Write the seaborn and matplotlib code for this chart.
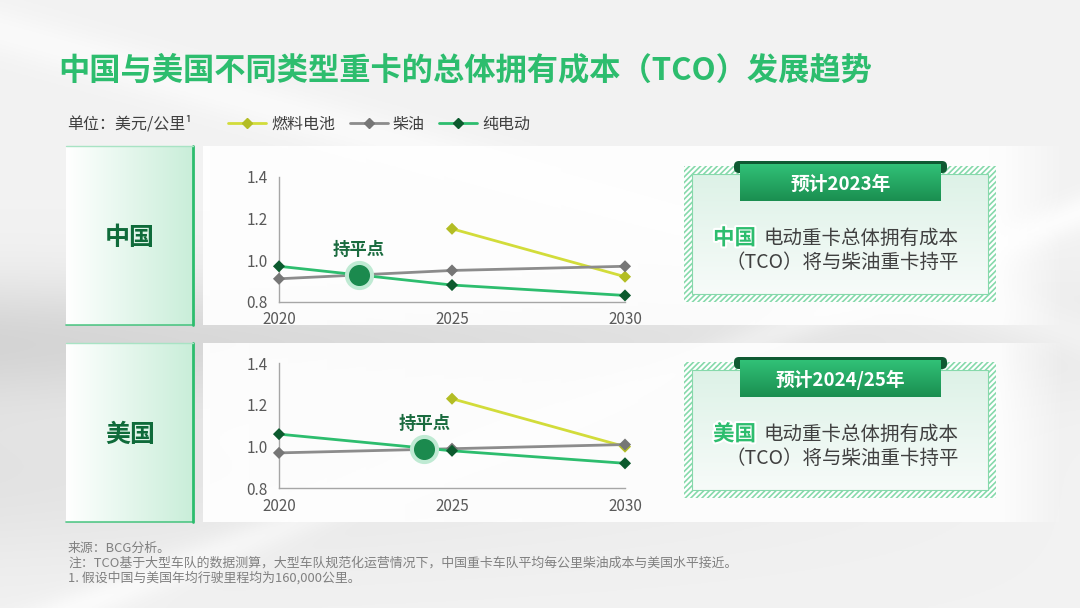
import numpy as np
import pandas as pd
import seaborn as sns
import matplotlib
matplotlib.use('Agg')
import matplotlib.pyplot as plt
from matplotlib.patches import Rectangle, FancyBboxPatch
from matplotlib.lines import Line2D
import matplotlib.patheffects as pe

sns.set_theme(style='white')
plt.rcParams['font.family'] = ['Noto Sans CJK SC', 'DejaVu Sans']
plt.rcParams['hatch.linewidth'] = 1.2

# ---- data ----
years = [2020, 2025, 2030]
series_names = ['燃料电池', '柴油', '纯电动']
china_fuel_cell = [np.nan, 1.15, 0.92]
china_diesel = [0.91, 0.95, 0.97]
china_electric = [0.97, 0.88, 0.83]
us_fuel_cell = [np.nan, 1.23, 1.00]
us_diesel = [0.97, 0.99, 1.01]
us_electric = [1.06, 0.98, 0.92]
china_breakeven = (2022.3, 0.93)
us_breakeven = (2024.2, 0.99)
regions = ['中国', '美国']
callout_titles = ['预计2023年', '预计2024/25年']
y_ticks = [0.8, 1.0, 1.2, 1.4]

title = '中国与美国不同类型重卡的总体拥有成本（TCO）发展趋势'
unit_label = '单位：美元/公里¹'
notes = ['来源：BCG分析。',
         '注：TCO基于大型车队的数据测算，大型车队规范化运营情况下，中国重卡车队平均每公里柴油成本与美国水平接近。',
         '1. 假设中国与美国年均行驶里程均为160,000公里。']

line_colors = {'燃料电池': '#d2dc3a', '柴油': '#8c8c8c', '纯电动': '#2dbd6e'}
marker_colors = {'燃料电池': '#b3bd24', '柴油': '#767676', '纯电动': '#0c5a2e'}
GREEN = '#2dbd6e'
DARK_GREEN = '#0f6b3a'

W, H = 1080, 608
fig = plt.figure(figsize=(10.8, 6.08), dpi=100)
bg = fig.add_axes([0, 0, 1, 1])
bg.axis('off')


def grad(ax, x0, y0, x1, y1, c0, c1, vertical=False, a0=1.0, a1=1.0, z=0):
    t = np.linspace(0, 1, 256)
    c0 = np.array(matplotlib.colors.to_rgb(c0))
    c1 = np.array(matplotlib.colors.to_rgb(c1))
    rgb = c0[None, :] * (1 - t[:, None]) + c1[None, :] * t[:, None]
    a = a0 * (1 - t) + a1 * t
    img = np.concatenate([rgb, a[:, None]], axis=1)
    img = img[:, None, :] if vertical else img[None, :, :]
    ax.imshow(img, extent=(x0, x1, y1, y0), origin='upper', aspect='auto',
              zorder=z, interpolation='bilinear')


# background with soft streaks
yy, xx = np.mgrid[0:1:300j, 0:1:540j]
base = 0.95 - 0.11 * np.exp(-((yy - 0.56) / 0.10) ** 2) * (1 - 0.7 * xx)
base -= 0.06 * np.exp(-((yy - 0.78) / 0.15) ** 2) * (1 - xx)
base += 0.04 * np.exp(-((0.7 * xx + yy - 1.05) / 0.03) ** 2)
base += 0.03 * np.exp(-((0.5 * xx - yy + 0.05) / 0.04) ** 2)
base = np.clip(base, 0, 1)
bg.imshow(np.dstack([base, base, base]), extent=(0, W, H, 0), aspect='auto', zorder=0)

# title and unit line
bg.text(58, 70, title, color=GREEN, fontsize=22.5, fontweight='bold', va='center', ha='left', zorder=5)
bg.text(67, 124, unit_label, color='#404040', fontsize=11.5, va='center', ha='left', zorder=5)

row_tops = [146, 343]
callout_tops = [166, 362]
region_data = [(china_fuel_cell, china_diesel, china_electric, china_breakeven),
               (us_fuel_cell, us_diesel, us_electric, us_breakeven)]

for i, (region, top) in enumerate(zip(regions, row_tops)):
    bottom = top + 179
    # left label box
    grad(bg, 66, top, 193, bottom, '#ffffff', '#c9eed9', z=1)
    bg.plot([193, 193], [top, bottom], color=GREEN, lw=2, zorder=2)
    bg.plot([66, 193], [bottom, bottom], color=GREEN, lw=1.2, alpha=0.8, zorder=2)
    bg.plot([66, 193], [top, top], color='#a8e3c4', lw=1, zorder=2)
    bg.text(130, top + 92, region, color=DARK_GREEN, fontsize=18, fontweight='bold',
            ha='center', va='center', zorder=3)
    # chart panel
    grad(bg, 203, top, 1000, bottom, '#ffffff', '#ffffff', a0=0.93, a1=0.85, z=1)
    grad(bg, 1000, top, 1065, bottom, '#ffffff', '#ffffff', a0=0.85, a1=0.0, z=1)

    # callout box
    ct = callout_tops[i]
    bg.add_patch(Rectangle((684, ct), 312, 136, facecolor='#ffffff', edgecolor='#86d9ab',
                           hatch='//////', lw=0, zorder=2))
    grad(bg, 692, ct + 8, 988, ct + 128, '#ddf2e7', '#f7fbf9', vertical=True, z=3)
    bg.add_patch(Rectangle((692, ct + 8), 296, 120, facecolor='none', edgecolor='#86d9ab',
                           lw=0.8, zorder=4))
    # ribbon
    bg.add_patch(FancyBboxPatch((734, ct - 5), 213, 12, boxstyle='round,pad=0,rounding_size=5',
                                facecolor='#0f5a32', edgecolor='none', zorder=4))
    grad(bg, 740, ct - 2, 941, ct + 35, '#31c177', '#1a8e50', vertical=True, z=5)
    bg.text(840.5, ct + 18, callout_titles[i], color='white', fontsize=13.5, fontweight='bold',
            ha='center', va='center', zorder=6)
    bg.text(713, ct + 72, region, color=GREEN, fontsize=15.5, fontweight='bold', ha='left',
            va='center', zorder=6, path_effects=[pe.withStroke(linewidth=3, foreground='white')])
    bg.text(764, ct + 72, '电动重卡总体拥有成本', color='#404040', fontsize=14, ha='left',
            va='center', zorder=6)
    bg.text(842, ct + 97, '（TCO）将与柴油重卡持平', color='#404040', fontsize=14, ha='center',
            va='center', zorder=6)

# footnotes
for k, note in enumerate(notes):
    bg.text(68, 548 + 15 * k, note, color='#808080', fontsize=9.3, ha='left', va='center', zorder=5)

bg.set_xlim(0, W)
bg.set_ylim(H, 0)

# ---- line charts ----
axis_tops = [176.7, 363.3]
for i, top in enumerate(axis_tops):
    fc, dsl, ev, be = region_data[i]
    df = pd.DataFrame({
        'year': years * 3,
        'cost': fc + dsl + ev,
        'type': [s for s in series_names for _ in years],
    }).dropna()
    ax = fig.add_axes([279 / W, 1 - (top + 125) / H, 346 / W, 125 / H])
    ax.patch.set_alpha(0)
    sns.lineplot(data=df, x='year', y='cost', hue='type', palette=line_colors,
                 hue_order=series_names, lw=2, legend=False, ax=ax)
    sns.scatterplot(data=df, x='year', y='cost', hue='type', palette=marker_colors,
                    hue_order=series_names, marker='D', s=38, edgecolor='none',
                    legend=False, ax=ax, zorder=4)
    for art in ax.lines + ax.collections:
        art.set_clip_on(False)
    ax.scatter([be[0]], [be[1]], s=400, color='#bfead3', zorder=5, clip_on=False)
    ax.scatter([be[0]], [be[1]], s=200, color='#1b8a4e', zorder=6, clip_on=False)
    ax.text(be[0], be[1] + 0.12, '持平点', color='#1a6b3f', fontsize=12.5,
            fontweight='bold', ha='center', va='center')
    ax.set_xlim(2020, 2030)
    ax.set_ylim(0.8, 1.4)
    ax.set_xticks(years)
    ax.set_yticks(y_ticks)
    ax.set_yticklabels([f'{v:.1f}' for v in y_ticks])
    ax.set_xlabel('')
    ax.set_ylabel('')
    ax.tick_params(axis='both', length=0, labelsize=11, labelcolor='#595959')
    ax.tick_params(axis='y', pad=8)
    ax.tick_params(axis='x', pad=7)
    for side in ['top', 'right']:
        ax.spines[side].set_visible(False)
    for side in ['left', 'bottom']:
        ax.spines[side].set_color('#a6a6a6')
        ax.spines[side].set_linewidth(1)

# legend
handles = [Line2D([0], [0], color=line_colors[s], lw=2, marker='D', markersize=5,
                  markerfacecolor=marker_colors[s], markeredgecolor=marker_colors[s])
           for s in series_names]
fig.legend(handles, series_names, loc='center left', bbox_to_anchor=(228 / W, 1 - 124 / H),
           ncol=3, frameon=False, fontsize=11.5, labelcolor='#404040', handlelength=2.4,
           handletextpad=0.3, columnspacing=0.9, borderaxespad=0, borderpad=0)

fig.savefig('out.png', dpi=100)
